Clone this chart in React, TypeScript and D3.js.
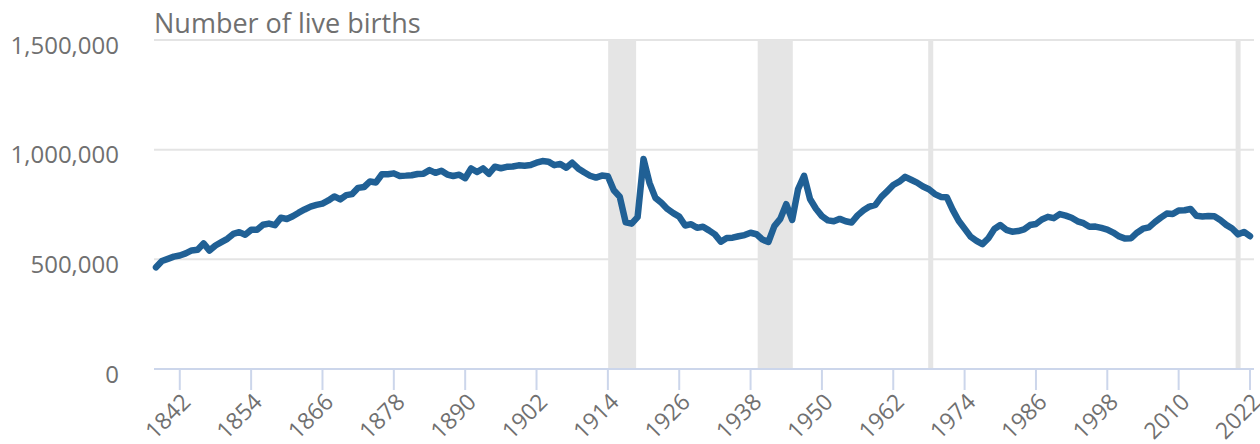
import React from 'react'
import * as d3 from 'd3'

// live births, England and Wales, 1838-2022
const years = d3.range(1838, 2023)
const births = [
  463787, 492574, 502303, 512158, 517739, 527325, 540763, 543521, 572625, 539965,
  563059, 578159, 593422, 615865, 624012, 612391, 634405, 635043, 657453, 663071,
  655481, 689881, 684048, 696406, 712684, 727417, 740275, 748069, 753870, 768349,
  786858, 773381, 792787, 797428, 825907, 829778, 854956, 850607, 887968, 888200,
  891906, 880389, 881643, 883642, 889014, 890722, 906750, 894270, 903760, 886331,
  879868, 885944, 869937, 914157, 897957, 914542, 890289, 922291, 915331, 921693,
  923165, 928646, 927062, 929807, 940509, 948271, 945389, 929293, 935081, 918042,
  940383, 914472, 896962, 881138, 872737, 881890, 879096, 814614, 785520, 668346,
  662661, 692438, 957782, 848814, 780124, 758131, 729933, 710582, 694563, 654172,
  660267, 643673, 648811, 632081, 613972, 580413, 597642, 598756, 605292, 610557,
  621204, 614479, 590120, 579091, 651503, 684334, 751478, 679937, 820719, 881026,
  775306, 730518, 697097, 677529, 673735, 684372, 673651, 667811, 700335, 723381,
  740715, 748501, 785005, 811281, 838736, 854055, 875972, 862725, 849823, 832164,
  819272, 797538, 784486, 783155, 725440, 675953, 639885, 603445, 584270, 569259,
  596418, 638028, 656234, 634492, 625931, 629134, 636818, 656417, 661018, 681511,
  693577, 687725, 706140, 699217, 689656, 673467, 664726, 648138, 649485, 643095,
  635901, 621872, 604441, 594634, 596122, 621469, 639721, 645835, 669601, 690013,
  708711, 706248, 723165, 723913, 729674, 698512, 695233, 697852, 696271, 679106,
  657076, 640370, 613936, 624828, 605479,
]

const yTicks = [0, 500000, 1000000, 1500000]
const xTicks = d3.range(1842, 2023, 12)

// shaded periods (world wars) and single-year markers
const bands = [
  { from: 1914.05, to: 1918.75 },
  { from: 1939.2, to: 1945.1 },
]
const markers = [1968.3, 2020]

const title = 'Number of live births'

const W = 1260
const H = 444
const left = 156
const right = 1250
const top = 40
const bottom = 369

export default function App() {
  const x = d3.scaleLinear().domain([1838, 2022]).range([left, right])
  const y = d3.scaleLinear().domain([0, 1500000]).range([bottom, top])
  const fmt = d3.format(',')

  const line = d3.line<number>()
    .x((_, i) => x(years[i]))
    .y(d => y(d))

  const font = "'Open Sans', sans-serif"
  const textColor = '#707070'

  return (
    <svg width={W} height={H} style={{ position: 'absolute', left: 0, top: 0, background: '#fff' }}
      fontFamily={font}>
      <text x={154} y={33} fontSize={27} fill={textColor}>{title}</text>

      {yTicks.filter(t => t > 0).map(t => (
        <line key={t} x1={154} x2={1254} y1={y(t)} y2={y(t)} stroke="#e4e4e4" strokeWidth={2} />
      ))}

      {bands.map((b, i) => (
        <rect key={i} x={x(b.from)} y={top} width={x(b.to) - x(b.from)} height={bottom - top} fill="#e5e5e5" />
      ))}
      {markers.map(m => (
        <rect key={m} x={x(m) - 2.5} y={top} width={5} height={bottom - top} fill="#e5e5e5" />
      ))}

      {yTicks.map(t => (
        <text key={t} x={119} y={y(t) + 4} fontSize={24} fill={textColor}
          textAnchor="end" dominantBaseline="central">{fmt(t)}</text>
      ))}

      <line x1={154} x2={1254} y1={bottom} y2={bottom} stroke="#ccd6eb" strokeWidth={2} />
      {xTicks.map(t => (
        <g key={t}>
          <line x1={x(t)} x2={x(t)} y1={bottom} y2={bottom + 21} stroke="#ccd6eb" strokeWidth={2} />
          <text transform={`translate(${x(t) + 6},${bottom + 28}) rotate(-45)`} fontSize={23}
            fill={textColor} textAnchor="end" dominantBaseline="central">{t}</text>
        </g>
      ))}

      <path d={line(births) ?? ''} fill="none" stroke="#206095" strokeWidth={6.5}
        strokeLinejoin="round" strokeLinecap="round" />
    </svg>
  )
}
